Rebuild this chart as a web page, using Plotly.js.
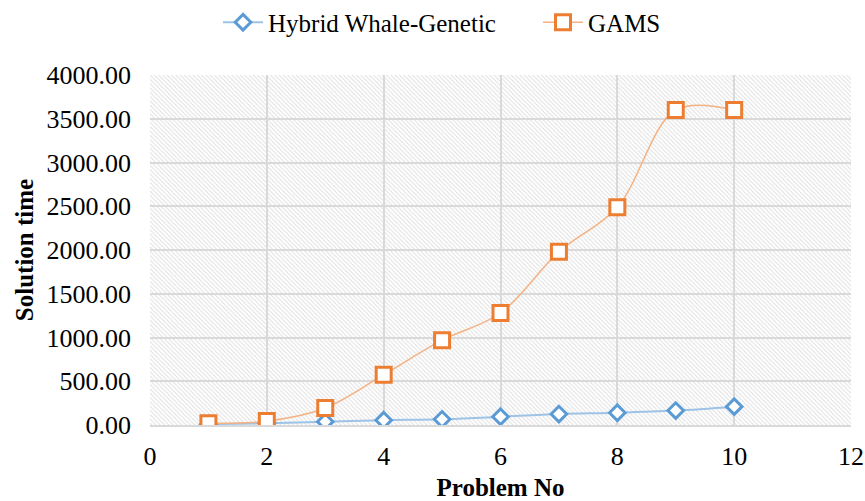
<!DOCTYPE html>
<html><head><meta charset="utf-8">
<script src="https://cdn.plot.ly/plotly-3.0.1.min.js"></script>
<style>html,body{margin:0;padding:0;background:#fff}#c{width:865px;height:501px}</style>
</head><body><div id="c"></div>
<script>
const problems = [1,2,3,4,5,6,7,8,9,10];
const hybrid = [10,20,38,55,65,95,125,140,165,210];
const gams = [20,45,195,575,970,1280,1980,2490,3600,3600];
const xRange = [0,12];
const yRange = [0,4000];
const font = 'Liberation Serif';

const hatchSvg = '<svg xmlns="http://www.w3.org/2000/svg" width="701" height="350" preserveAspectRatio="none">' +
  '<defs><pattern id="p" width="4.3" height="4.3" patternUnits="userSpaceOnUse">' +
  '<path d="M-1,-1 L5.3,5.3 M-1,3.3 L1,5.3 M3.3,-1 L5.3,1" stroke="#dddddd" stroke-width="0.9"/></pattern></defs>' +
  '<rect width="701" height="350" fill="#ffffff"/><rect width="701" height="350" fill="url(#p)"/></svg>';

const t1 = {
  x:problems, y:hybrid, name:'Hybrid Whale-Genetic', mode:'lines+markers',
  line:{color:'#9dc3e6', width:2, shape:'spline'},
  marker:{symbol:'diamond', size:12, color:'#ffffff', line:{width:3, color:'#5B9BD5'}}
};
const t2 = {
  x:problems, y:gams, name:'GAMS', mode:'lines+markers',
  line:{color:'#f4b183', width:1.5, shape:'spline'},
  marker:{symbol:'square', size:15, color:'#ffffff', line:{width:3, color:'#ED7D31'}}
};
const layout = {
  width:865, height:501,
  margin:{l:150, r:14, t:75, b:76, autoexpand:false},
  paper_bgcolor:'#fff', plot_bgcolor:'#fff',
  font:{family:font, size:26, color:'#000'},
  showlegend:true,
  legend:{orientation:'h', xref:'container', yref:'container', x:0.622, xanchor:'center',
    y:0.955, yanchor:'middle', font:{size:25}, traceorder:'normal', itemwidth:40,
    entrywidth:265, entrywidthmode:'pixels'},
  images:[{source:'data:image/svg+xml;charset=utf-8,' + encodeURIComponent(hatchSvg),
    xref:'paper', yref:'paper', x:0, y:1, sizex:1, sizey:1, xanchor:'left', yanchor:'top',
    sizing:'stretch', layer:'below'}],
  xaxis:{range:xRange, dtick:2, tick0:0, showgrid:true, gridcolor:'#d9d9d9', gridwidth:2,
    zeroline:false, showline:true, linecolor:'#d9d9d9', linewidth:2, ticks:'', automargin:false,
    ticklabelstandoff:7, tickfont:{size:26},
    title:{text:'<b>Problem No</b>', font:{size:25}, standoff:11}},
  yaxis:{range:yRange, dtick:500, tickformat:'.2f', showgrid:true, gridcolor:'#d9d9d9', gridwidth:2,
    zeroline:false, showline:false, ticks:'', automargin:false, ticklabelstandoff:18, tickfont:{size:26},
    title:{text:'<b>Solution time</b>', font:{size:25}, standoff:5}}
};
Plotly.newPlot('c',[t1,t2],layout,{displayModeBar:false, staticPlot:true});
</script></body></html>
